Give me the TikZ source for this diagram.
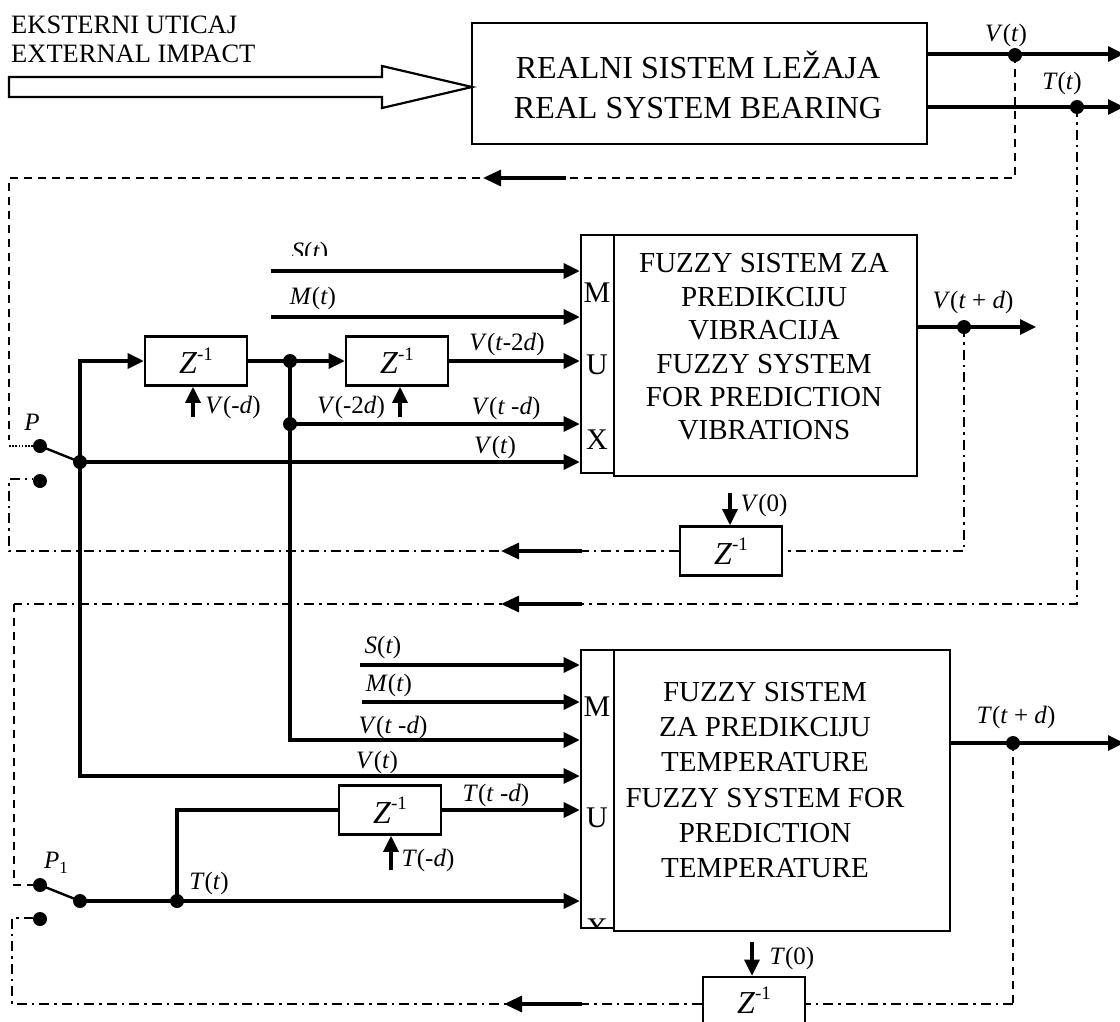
\documentclass[tikz,border=0pt]{standalone}
\usepackage{fontspec}
\setmainfont{Liberation Serif}
\usetikzlibrary{arrows.meta}
\newcommand\zinv{\textit{Z}\raisebox{0.42em}{\fontsize{19}{19}\selectfont -1}}
\begin{document}
\begin{tikzpicture}[x=1pt,y=-1pt,
  sig/.style={line width=3.1pt,-{Triangle[length=16pt,width=15pt]}},
  sigtwo/.style={line width=3.1pt,{Triangle[length=16pt,width=15pt]}-{Triangle[length=16pt,width=15pt]}},
  wire/.style={line width=3.1pt},
  fb/.style={line width=3.2pt,-{Triangle[length=18pt,width=16pt]}},
  blk/.style={draw,line width=2.6pt,inner sep=0pt},
  zbox/.style={blk,minimum width=102pt,minimum height=49pt,font=\fontsize{32}{32}\selectfont},
  dsh/.style={line width=2.1pt,dash pattern=on 8pt off 6pt},
  dshdot/.style={line width=2.1pt,dash pattern=on 10pt off 5pt on 2.5pt off 5pt},
  dotl/.style={line width=1.8pt,dash pattern=on 1.6pt off 1.6pt},
  jdot/.style={circle,fill,inner sep=0pt,minimum size=14pt},
  lbl/.style={inner sep=0pt,font=\fontsize{25}{28}\selectfont},
  muxl/.style={inner sep=0pt,font=\fontsize{30}{30}\selectfont},
  bigtxt/.style={inner sep=0pt,align=center},
]
\clip (0,0) rectangle (1120,1021);

% ---------- real system ----------
\node[blk,minimum width=455pt,minimum height=121pt] (real) at (699.5,83.5) {};
\node[bigtxt,font=\fontsize{32}{40}\selectfont] (realtxt) at (698,84.5) {REALNI SISTEM LEŽAJA\\REAL SYSTEM BEARING};
\node[inner sep=0pt,align=left,anchor=west,font=\fontsize{26.5}{29}\selectfont] (ext) at (11,39) {EKSTERNI UTICAJ\\EXTERNAL IMPACT};
\coordinate (tip) at (472,87);
\draw[line width=2.2pt] (9,77) -- (382,77) -- (382,66) -- (tip) -- (382,108) -- (382,97) -- (9,97) -- cycle;

\coordinate (vo) at (1124,54);
\coordinate (to) at (1124,107);
\draw[sig] (vo -| real.east) -- (vo);
\draw[sig] (to -| real.east) -- (to);
\node[jdot] (vd) at (1015,55) {};
\node[jdot] (td) at (1077,107) {};
\node[lbl] (lvt) at (1006,35) {\textit{V}(\textit{t})};
\node[lbl] (ltt) at (1062,83) {\textit{T}(\textit{t})};

% ---------- switch P ----------
\node[jdot] (pa) at (40,446) {};
\node[jdot] (pc) at (80,462) {};
\node[jdot] (pb) at (40,481) {};
\draw[line width=2.4pt] (pa.center) -- (pc.center);
\node[lbl] (lp) at (32,422) {\textit{P}};

% ---------- feedback 1 (dashed) ----------
\coordinate (f1a) at (1015,178);
\coordinate (f1b) at (9,178);
\coordinate (f1c) at (9,440);
\coordinate (f1d) at (9,446);
\draw[dsh] (vd.center) -- (f1a) -- (f1b) -- (f1c);
\draw[dotl] (f1d) -- (pa);
\coordinate (a1s) at (566,178);
\coordinate (a1e) at (483,178);
\draw[fb] (a1s) -- (a1e);

% ---------- upper fuzzy system ----------
\node[blk,minimum width=33pt,minimum height=238pt] (mux1) at (597.5,354) {};
\node[blk,minimum width=303pt,minimum height=241pt] (fz1) at (765.5,355.5) {};
\node[bigtxt,font=\fontsize{29}{33.4}\selectfont] (fz1txt) at (764,347) {FUZZY SISTEM ZA\\PREDIKCIJU\\VIBRACIJA\\FUZZY SYSTEM\\FOR PREDICTION\\VIBRATIONS};
\node[muxl] (m1) at (597,293) {M};
\node[muxl] (u1) at (597,365) {U};
\node[muxl] (x1) at (597,440) {X};

\node[zbox] (z1) at (196,361) {\zinv};
\node[zbox] (z2) at (397,361) {\zinv};

\coordinate (s1) at (271,271);
\coordinate (m1in) at (271,317);
\draw[sig] (s1) -- (s1 -| mux1.west);
\draw[sig] (m1in) -- (m1in -| mux1.west);
\begin{scope}
\clip (280,230) rectangle (345,255);
\node[lbl] (ls1) at (310,253) {\textit{S}(\textit{t})};
\end{scope}
\node[lbl] (lm1) at (313,298) {\textit{M}(\textit{t})};

\node[jdot] (j1) at (290,361) {};
\node[jdot] (j2) at (290,424) {};
\draw[sig] (z1.east) -- (z2.west);
\draw[sig] (z2.east) -- (z2.east -| mux1.west);
\draw[sig] (j2.center) -- (j2 -| mux1.west);
\draw[sig] (pc.center) -- (pc -| mux1.west);
\node[lbl] (lv2d) at (507,344) {\textit{V}(\textit{t}-2\textit{d})};
\node[lbl] (lvd) at (506,408) {\textit{V}(\textit{t} -\textit{d})};
\node[lbl] (lv1) at (495,447) {\textit{V}(\textit{t})};

\coordinate (vmd) at (193,417);
\coordinate (vm2d) at (400,417);
\draw[sig] (vmd) -- (vmd |- z1.south);
\draw[sig] (vm2d) -- (vm2d |- z2.south);
\node[lbl] (lvmd) at (233,407) {\textit{V}(-\textit{d})};
\node[lbl] (lvm2d) at (351,407) {\textit{V}(-2\textit{d})};

% left verticals
\coordinate (c80t) at (80,361);
\coordinate (c80b) at (80,776);
\coordinate (c290b) at (290,740);
\draw[sigtwo] (z1.west) -- (c80t) -- (c80b) -- (c80b -| mux1.west);
\draw[sig] (j1.center) -- (c290b) -- (c290b -| mux1.west);

% V(t+d) output and feedback 2
\node[jdot] (vpd) at (964,327) {};
\coordinate (vpo) at (1036,327);
\draw[sig] (vpo -| fz1.east) -- (vpo);
\node[lbl] (lvpd) at (973,302) {\textit{V}(\textit{t} + \textit{d})};
\node[zbox] (zv) at (731,551) {\zinv};
\coordinate (f2a) at (964,551);
\coordinate (f2b) at (9,551);
\coordinate (f2c) at (9,479);
\coordinate (f2d) at (33,479);
\draw[dshdot] (vpd.center) -- (f2a) -- (zv.east);
\draw[dshdot] (zv.west) -- (f2b) -- (f2c) -- (f2d);
\coordinate (a2s) at (582,551);
\coordinate (a2e) at (501,551);
\draw[fb] (a2s) -- (a2e);
\coordinate (v0) at (730,493);
\draw[sig] (v0) -- (v0 |- zv.north);
\node[lbl] (lv0) at (764,505) {\textit{V}(0)};

% ---------- feedback 3 (T(t)) ----------
\coordinate (f3a) at (1077,604);
\coordinate (f3b) at (14,604);
\coordinate (f3c) at (14,885);
\coordinate (f3d) at (33,885);
\draw[dshdot] (td.center) -- (f3a) -- (f3b);
\draw[dsh] (f3b) -- (f3c) -- (f3d);
\coordinate (a3s) at (582,604);
\coordinate (a3e) at (501,604);
\draw[fb] (a3s) -- (a3e);

% ---------- lower fuzzy system ----------
\node[blk,minimum width=33pt,minimum height=278pt] (mux2) at (597.5,789) {};
\node[blk,minimum width=336pt,minimum height=281pt] (fz2) at (782,790.5) {};
\node[bigtxt,font=\fontsize{29}{35.2}\selectfont] (fz2txt) at (765,780) {FUZZY SISTEM\\ZA PREDIKCIJU\\TEMPERATURE\\FUZZY SYSTEM FOR\\PREDICTION\\TEMPERATURE};
\node[muxl] (m2) at (597,707) {M};
\node[muxl] (u2) at (597,818) {U};
\begin{scope}
\clip (583,900) rectangle (612,926.5);
\node[muxl] (x2) at (597,929) {X};
\end{scope}

\coordinate (s2) at (360,665);
\coordinate (m2in) at (362,702);
\draw[sig] (s2) -- (s2 -| mux2.west);
\draw[sig] (m2in) -- (m2in -| mux2.west);
\node[lbl] (ls2) at (383,647) {\textit{S}(\textit{t})};
\node[lbl] (lm2) at (389,685) {\textit{M}(\textit{t})};
\node[lbl] (lvd2) at (393,727) {\textit{V}(\textit{t} -\textit{d})};
\node[lbl] (lv2) at (377,762) {\textit{V}(\textit{t})};

% switch P1
\node[jdot] (qa) at (40,885) {};
\node[jdot] (qc) at (80,901) {};
\node[jdot] (qb) at (40,919) {};
\draw[line width=2.4pt] (qa.center) -- (qc.center);
\node[lbl] (lp1) at (56,863) {\textit{P}\raisebox{-0.2em}{\fontsize{17}{17}\selectfont 1}};

\node[zbox] (zt) at (390,810) {\zinv};
\node[jdot] (ttd) at (177,901) {};
\coordinate (c177) at (177,810);
\draw[sig] (qc.center) -- (qc -| mux2.west);
\draw[wire] (ttd.center) -- (c177) -- (zt.west);
\draw[sig] (zt.east) -- (zt.east -| mux2.west);
\node[lbl] (ltd) at (496,795) {\textit{T}(\textit{t} -\textit{d})};
\node[lbl] (lttt) at (209,883) {\textit{T}(\textit{t})};
\coordinate (tmd) at (391,870);
\draw[sig] (tmd) -- (tmd |- zt.south);
\node[lbl] (ltmd) at (428,860) {\textit{T}(-\textit{d})};

% T(t+d) output and feedback 4
\node[jdot] (tpd) at (1013,743) {};
\coordinate (tpo) at (1124,743);
\draw[sig] (tpo -| fz2.east) -- (tpo);
\node[lbl] (ltpd) at (1016,717) {\textit{T}(\textit{t} + \textit{d})};
\node[blk,minimum width=102pt,minimum height=54pt] (zt2) at (754,1004) {};
\node[inner sep=0pt,anchor=base,font=\fontsize{32}{32}\selectfont] (zt2txt) at (754,1013) {\zinv};
\coordinate (f4a) at (1013,1004);
\coordinate (f4b) at (12,1004);
\coordinate (f4c) at (12,918);
\coordinate (f4d) at (33,918);
\draw[dsh] (tpd.center) -- (f4a);
\draw[dshdot] (f4a) -- (zt2.east);
\draw[dshdot] (zt2.west) -- (f4b) -- (f4c) -- (f4d);
\coordinate (a4s) at (582,1004);
\coordinate (a4e) at (504,1004);
\draw[fb] (a4s) -- (a4e);
\coordinate (t0) at (752,942);
\draw[sig] (t0) -- (t0 |- zt2.north);
\node[lbl] (lt0) at (792,958) {\textit{T}(0)};
\end{tikzpicture}
\end{document}
